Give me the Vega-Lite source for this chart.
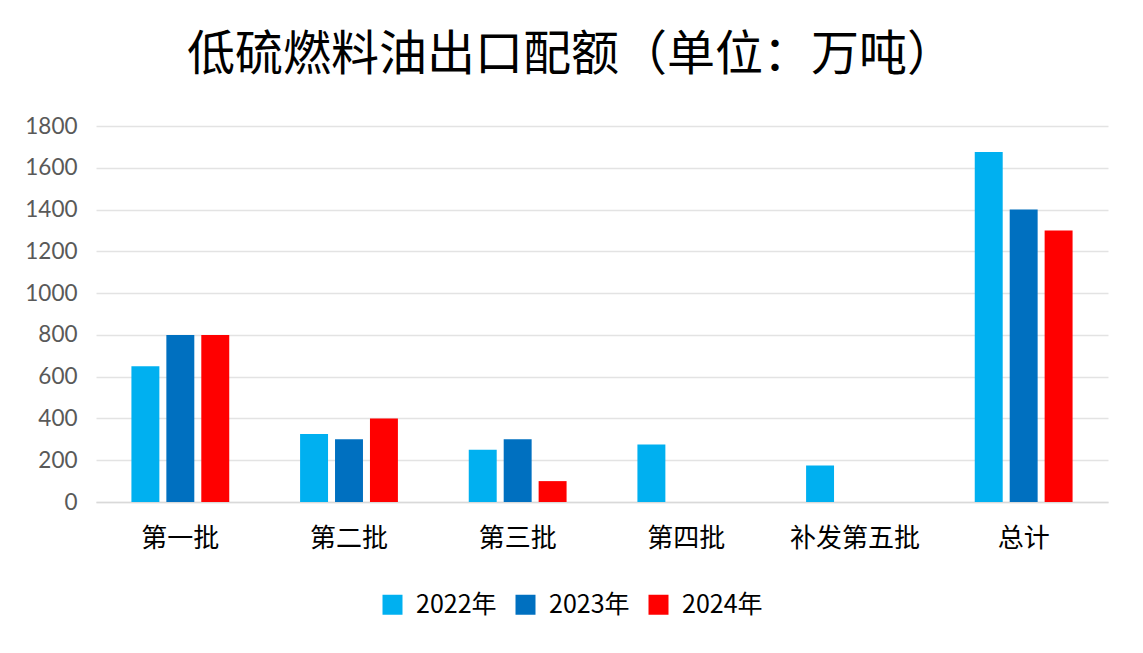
{
  "$schema": "https://vega.github.io/schema/vega-lite/v6.json",
  "width": 1012,
  "height": 376,
  "autosize": {"type": "none"},
  "padding": {"left": 96, "top": 126, "right": 35, "bottom": 151},
  "background": "white",
  "title": {
    "text": "低硫燃料油出口配额（单位：万吨）",
    "font": "Noto Sans CJK SC",
    "fontSize": 48,
    "fontWeight": "normal",
    "color": "#000000",
    "anchor": "middle",
    "frame": "group",
    "dx": -31,
    "offset": 35
  },
  "data": {
    "values": [
      {"batch": "第一批", "year": "2022年", "value": 650},
      {"batch": "第一批", "year": "2023年", "value": 800},
      {"batch": "第一批", "year": "2024年", "value": 800},
      {"batch": "第二批", "year": "2022年", "value": 325},
      {"batch": "第二批", "year": "2023年", "value": 300},
      {"batch": "第二批", "year": "2024年", "value": 400},
      {"batch": "第三批", "year": "2022年", "value": 250},
      {"batch": "第三批", "year": "2023年", "value": 300},
      {"batch": "第三批", "year": "2024年", "value": 100},
      {"batch": "第四批", "year": "2022年", "value": 275},
      {"batch": "补发第五批", "year": "2022年", "value": 175},
      {"batch": "总计", "year": "2022年", "value": 1675},
      {"batch": "总计", "year": "2023年", "value": 1400},
      {"batch": "总计", "year": "2024年", "value": 1300}
    ]
  },
  "mark": {"type": "bar"},
  "encoding": {
    "x": {
      "field": "batch",
      "type": "nominal",
      "sort": ["第一批", "第二批", "第三批", "第四批", "补发第五批", "总计"],
      "scale": {"paddingInner": 0.42, "paddingOuter": 0.21},
      "axis": {
        "title": null,
        "labelAngle": 0,
        "labelFont": "Noto Sans CJK SC",
        "labelFontSize": 26,
        "labelColor": "#000000",
        "labelPadding": 23,
        "ticks": false,
        "domainColor": "#d9d9d9",
        "domainWidth": 1.5
      }
    },
    "xOffset": {
      "field": "year",
      "type": "nominal",
      "scale": {"paddingInner": 0.2, "paddingOuter": 0}
    },
    "y": {
      "field": "value",
      "type": "quantitative",
      "scale": {"domain": [0, 1800]},
      "axis": {
        "title": null,
        "values": [0, 200, 400, 600, 800, 1000, 1200, 1400, 1600, 1800],
        "format": "d",
        "labelFont": "Lato, Noto Sans CJK SC",
        "labelFontSize": 22.5,
        "labelColor": "#595959",
        "labelPadding": 19,
        "ticks": false,
        "domain": false,
        "gridColor": "#e3e3e3",
        "gridWidth": 1.5
      }
    },
    "color": {
      "field": "year",
      "type": "nominal",
      "scale": {"domain": ["2022年", "2023年", "2024年"], "range": ["#00b0f0", "#0070c0", "#ff0000"]},
      "legend": {
        "title": null,
        "orient": "none",
        "direction": "horizontal",
        "legendX": 284,
        "legendY": 466,
        "symbolType": "square",
        "symbolSize": 400,
        "symbolStrokeWidth": 0,
        "labelFont": "Noto Sans CJK SC",
        "labelFontSize": 25,
        "labelColor": "#000000",
        "labelOffset": 11,
        "columnPadding": 16
      }
    }
  },
  "config": {"view": {"stroke": null}}
}
